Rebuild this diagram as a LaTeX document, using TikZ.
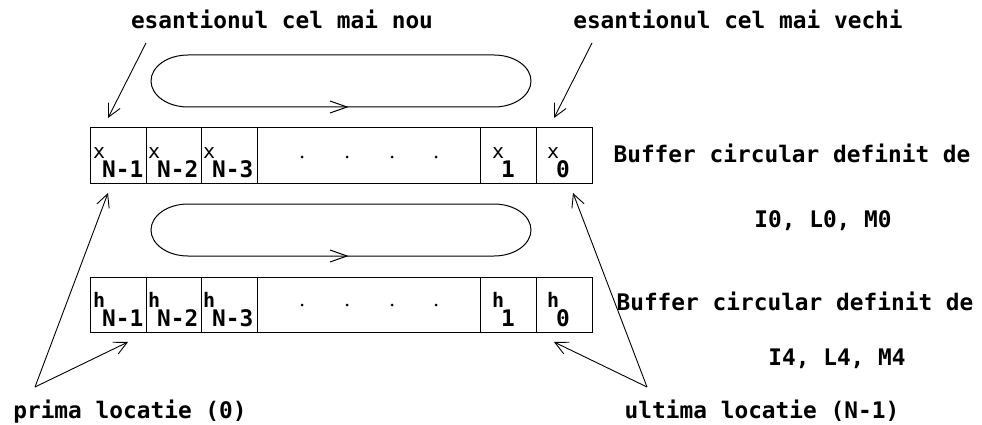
\documentclass[tikz,border=0pt]{standalone}
\usepackage{fontspec}
\setmonofont{DejaVu Sans Mono}
\usetikzlibrary{arrows.meta}

\tikzset{
  lbl/.style={font=\ttfamily\bfseries\fontsize{22.8}{23}\selectfont, inner sep=0pt, anchor=base},
  sym/.style={font=\ttfamily\fontsize{20}{20}\selectfont, inner sep=0pt, anchor=base west},
  symb/.style={sym, font=\ttfamily\bfseries\fontsize{20}{20}\selectfont},
  idx/.style={font=\ttfamily\bfseries\fontsize{22.8}{23}\selectfont, inner sep=0pt, anchor=base west},
  cell/.style={draw, line width=1pt, inner sep=0pt, outer sep=0pt, minimum height=55pt},
  ptr/.style={line width=0.9pt, -{Straight Barb[length=13pt,width=13pt,line width=0.9pt]}},
  loop/.style={line width=1pt},
}

% one cell of a buffer: name, left x, right x, top y
\newcommand{\bufcell}[4]{%
  \node[cell, minimum width={#3pt-#2pt}] (#1) at ({(#2+#3)/2}, #4+27.5) {};}
% symbol with index: name, left x, baseline, letter style, letter, index
\newcommand{\cellsym}[6]{%
  \node[#4] (#1s) at (#2, #3) {#5};
  \node[idx] (#1i) at (#2+9, #3+19) {#6};}
% circular loop with direction mark: top y (half-ellipse ends, rx=37, ry=26)
\newcommand{\circloop}[1]{%
  \draw[loop] (188,#1) -- (494,#1)
    .. controls (514.4,#1) and (531,#1+11.6) .. (531,#1+26)
    .. controls (531,#1+40.4) and (514.4,#1+52) .. (494,#1+52)
    -- (188,#1+52)
    .. controls (167.6,#1+52) and (151,#1+40.4) .. (151,#1+26)
    .. controls (151,#1+11.6) and (167.6,#1) .. cycle;
  \draw[line width=1pt] (330,#1+46) -- (347,#1+52) -- (330,#1+58);}

\begin{document}
\begin{tikzpicture}[x=1pt, y=-1pt]
\useasboundingbox (0,0) rectangle (982,425);

% ---------- data buffer x ----------
\circloop{55}
\bufcell{xa}{90}{146}{128}
\bufcell{xb}{146}{201}{128}
\bufcell{xc}{201}{257}{128}
\bufcell{xd}{257}{480}{128}
\bufcell{xe}{480}{536}{128}
\bufcell{xf}{536}{592}{128}
\cellsym{xa}{93}{158}{sym}{x}{N-1}
\cellsym{xb}{148}{158}{sym}{x}{N-2}
\cellsym{xc}{203}{158}{sym}{x}{N-3}
\cellsym{xe}{492}{158}{sym}{x}{1}
\cellsym{xf}{547}{158}{sym}{x}{0}
\foreach \px in {302,347,392,436} \fill (\px,157) circle (1.5pt);

% ---------- coefficient buffer h ----------
\circloop{204}
\bufcell{ha}{90}{146}{277}
\bufcell{hb}{146}{201}{277}
\bufcell{hc}{201}{257}{277}
\bufcell{hd}{257}{480}{277}
\bufcell{he}{480}{536}{277}
\bufcell{hf}{536}{592}{277}
\cellsym{ha}{93}{307}{symb}{h}{N-1}
\cellsym{hb}{148}{307}{symb}{h}{N-2}
\cellsym{hc}{203}{307}{symb}{h}{N-3}
\cellsym{he}{492}{307}{symb}{h}{1}
\cellsym{hf}{547}{307}{symb}{h}{0}
\foreach \px in {302,347,392,436} \fill (\px,305) circle (1.5pt);

% ---------- labels ----------
\node[lbl] (nou)   at (282,29)  {esantionul cel mai nou};
\node[lbl] (vechi) at (738,29)  {esantionul cel mai vechi};
\node[lbl] (bx)    at (792,162) {Buffer circular definit de};
\node[lbl] (rx)    at (823,227) {I0, L0, M0};
\node[lbl] (bh)    at (795,310) {Buffer circular definit de};
\node[lbl] (rh)    at (837,365) {I4, L4, M4};
\node[lbl] (prima) at (130,418) {prima locatie (0)};
\node[lbl] (ultima) at (762,418) {ultima locatie (N-1)};

% ---------- pointers ----------
\coordinate (nouS)   at (146,43);
\coordinate (vechiS) at (592,43);
\coordinate (primaS) at (35,387);
\coordinate (ultimaS) at (647,387);
\coordinate (newT)  at (108,118);
\coordinate (oldT)  at (554,118);
\coordinate (xfirst) at (108,193);
\coordinate (hfirst) at (128,342);
\coordinate (xlast)  at (573,193);
\coordinate (hlast)  at (554,342);

\draw[ptr] (nouS) -- (newT);
\draw[ptr] (vechiS) -- (oldT);
\draw[ptr] (primaS) -- (xfirst);
\draw[ptr] (primaS) -- (hfirst);
\draw[ptr] (ultimaS) -- (xlast);
\draw[ptr] (ultimaS) -- (hlast);
\end{tikzpicture}
\end{document}
